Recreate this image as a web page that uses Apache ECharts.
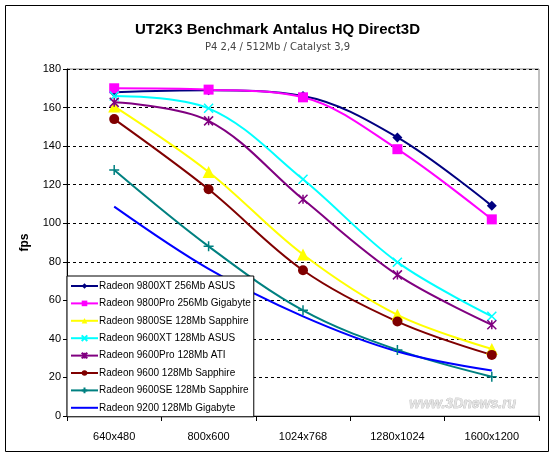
<!DOCTYPE html>
<html>
<head>
<meta charset="utf-8">
<script src="https://cdn.jsdelivr.net/npm/echarts@6/dist/echarts.min.js"></script>
<style>
  html, body { margin: 0; padding: 0; background: #fff; }
  #chart { width: 555px; height: 458px; }
</style>
</head>
<body>
<div id="chart"></div>
<script>
// resolutions on the x axis
var categories = ["640x480", "800x600", "1024x768", "1280x1024", "1600x1200"];

// fps per card
var r9800xt = [168, 169, 166, 144.5, 109];
var r9800pro = [170, 169.3, 165.3, 138.4, 102];
var r9800se = [160.6, 126.6, 83.8, 52.5, 34.8];
var r9600xt = [166, 159.6, 122.8, 79.8, 51.7];
var r9600pro = [162.7, 153.1, 112.4, 73.2, 47.3];
var r9600 = [154, 117.6, 75.6, 49, 31.7];
var r9600se = [127.6, 88, 54.8, 34.3, 20.4];
var r9200 = [108.6, 76.3, 51.7, 33.5, 23.6];

var names = [
  "Radeon 9800XT 256Mb ASUS",
  "Radeon 9800Pro 256Mb Gigabyte",
  "Radeon 9800SE 128Mb Sapphire",
  "Radeon 9600XT 128Mb ASUS",
  "Radeon 9600Pro 128Mb ATI",
  "Radeon 9600 128Mb Sapphire",
  "Radeon 9600SE 128Mb Sapphire",
  "Radeon 9200 128Mb Gigabyte",
];

var X_SYM = "path://M0,0L10,10M10,0L0,10";
var STAR_SYM = "path://M0,0L10,10M10,0L0,10M5,0L5,10";
var PLUS_SYM = "path://M5,0L5,10M0,5L10,5";

function mkSeries(name, data, color, symbol, size, stroke) {
  var noMarks = symbol === "none";
  return {
    name: name,
    type: "line",
    smooth: 0.35,
    data: data,
    symbol: noMarks ? "circle" : symbol,
    symbolSize: size,
    showSymbol: !noMarks,
    lineStyle: { color: color, width: 2 },
    itemStyle: {
      // the unmarked line gets an invisible marker, so its legend shows a plain line
      color: stroke || noMarks ? "rgba(0,0,0,0)" : color,
      borderColor: noMarks ? "rgba(0,0,0,0)" : color,
      borderWidth: stroke ? 1.5 : 0,
    },
    emphasis: { disabled: true },
    z: 3,
  };
}

var chart = echarts.init(document.getElementById("chart"), null, { renderer: "canvas" });

var option = {
  backgroundColor: "#fff",
  animation: false,
  title: {
    text: "UT2K3 Benchmark Antalus HQ Direct3D",
    subtext: "P4 2,4 / 512Mb / Catalyst 3,9",
    left: "center",
    top: 17,
    itemGap: 5,
    textStyle: { fontFamily: "Liberation Sans", fontSize: 15, fontWeight: "bold", color: "#000" },
    subtextStyle: { fontFamily: "DejaVu Sans", fontSize: 10, color: "#444" },
  },
  grid: {
    left: 67,
    right: 16,
    top: 69,
    bottom: 42,
    show: true,
    borderColor: "#808080",
    borderWidth: 1,
  },
  legend: {
    orient: "vertical",
    left: 67,
    top: 276,
    padding: [4, 3, 3, 3],
    itemGap: 5.4,
    itemWidth: 27,
    itemHeight: 7,
    backgroundColor: "#fff",
    borderColor: "#000",
    borderWidth: 1,
    borderRadius: 0,
    textStyle: {
      fontFamily: "Liberation Sans",
      fontSize: 10,
      lineHeight: 12,
      color: "#000",
      padding: [0, 0, 0, -4],
    },
    data: names,
    z: 10,
  },
  xAxis: {
    type: "category",
    data: categories,
    boundaryGap: true,
    axisLine: { lineStyle: { color: "#000", width: 1 } },
    axisTick: { show: true, length: 5, lineStyle: { color: "#000" } },
    axisLabel: { fontFamily: "Liberation Sans", fontSize: 11, color: "#000", margin: 15 },
  },
  yAxis: {
    type: "value",
    name: "fps",
    nameLocation: "middle",
    nameGap: 36,
    nameTextStyle: { fontFamily: "Liberation Sans", fontSize: 12, fontWeight: "bold", color: "#000" },
    min: 0,
    max: 180,
    interval: 20,
    axisLine: { show: true, lineStyle: { color: "#000", width: 1 } },
    axisTick: { show: true, length: 4, lineStyle: { color: "#000" } },
    axisLabel: { fontFamily: "Liberation Sans", fontSize: 11, color: "#000", margin: 6 },
    splitLine: { show: true, lineStyle: { color: "#000", type: [3, 3], width: 1 } },
  },
  graphic: [
    {
      type: "rect",
      shape: { x: 5.5, y: 5.5, width: 543, height: 446 },
      style: { fill: "none", stroke: "#000", lineWidth: 1 },
      silent: true,
    },
    {
      type: "text",
      left: 409,
      top: 397,
      style: {
        text: "www.3Dnews.ru",
        font: "italic bold 14px 'Liberation Sans'",
        fill: "#e4e4e4",
        stroke: "#a8a8a8",
        lineWidth: 0.6,
      },
      silent: true,
      z: 1,
    },
  ],
  series: [
    mkSeries(names[0], r9800xt, "#000080", "diamond", 10),
    mkSeries(names[1], r9800pro, "#ff00ff", "rect", 10),
    mkSeries(names[2], r9800se, "#ffff00", "triangle", 12),
    mkSeries(names[3], r9600xt, "#00ffff", X_SYM, 9, true),
    mkSeries(names[4], r9600pro, "#800080", STAR_SYM, 9, true),
    mkSeries(names[5], r9600, "#800000", "circle", 10),
    mkSeries(names[6], r9600se, "#008080", PLUS_SYM, 10, true),
    mkSeries(names[7], r9200, "#0000ff", "none", 8),
  ],
};

chart.setOption(option);
</script>
</body>
</html>
